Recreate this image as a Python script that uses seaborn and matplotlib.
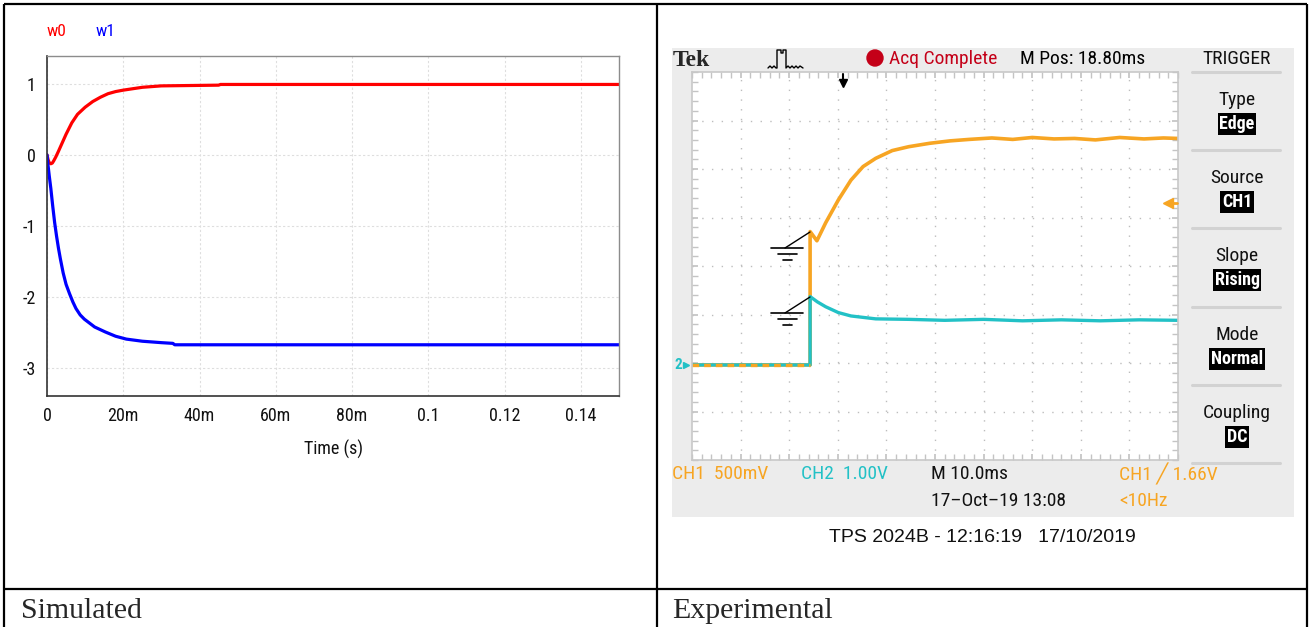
import numpy as np
import pandas as pd
import matplotlib
matplotlib.use("Agg")
import matplotlib.pyplot as plt
import matplotlib.patches as mpatches
import seaborn as sns

W, H = 1311, 627

# simulated traces (PSIM), time in s
t_w0 = [0, 0.0003, 0.0006, 0.001, 0.0014, 0.0018, 0.0023, 0.003, 0.004, 0.005, 0.0065,
        0.008, 0.010, 0.012, 0.014, 0.016, 0.018, 0.020, 0.025, 0.030, 0.045, 0.0455, 0.15]
w0 = [0, -0.07, -0.11, -0.125, -0.115, -0.08, -0.03, 0.05, 0.17, 0.29, 0.45,
      0.57, 0.67, 0.75, 0.81, 0.86, 0.89, 0.91, 0.95, 0.97, 0.98, 0.99, 0.99]
t_w1 = [0, 0.0003, 0.0006, 0.001, 0.0015, 0.002, 0.0025, 0.003, 0.0035, 0.00424, 0.005,
        0.0059, 0.0068, 0.0076, 0.0087, 0.0098, 0.0125, 0.0153, 0.018, 0.0208, 0.025,
        0.030, 0.033, 0.0335, 0.15]
w1 = [0, -0.16, -0.30, -0.47, -0.72, -0.95, -1.14, -1.31, -1.46, -1.66, -1.82,
      -1.95, -2.07, -2.16, -2.25, -2.31, -2.42, -2.49, -2.55, -2.59, -2.62,
      -2.64, -2.65, -2.67, -2.67]
sim_xticks = [0, 0.02, 0.04, 0.06, 0.08, 0.10, 0.12, 0.14]
sim_xlabels = ["0", "20m", "40m", "60m", "80m", "0.1", "0.12", "0.14"]
sim_yticks = [-3, -2, -1, 0, 1]

# scope traces: time in ms (10 ms/div), level in divisions from bottom of screen
t_ch1 = [0, 24.3, 24.3, 25.7, 27.5, 30.1, 32.7, 35.2, 37.8, 41.2, 44.6, 48.9, 53.1,
         57.0, 61.7, 66.0, 70.0, 74.5, 78.7, 83.0, 88.0, 93.0, 97.0, 100]
ch1 = [1.96, 1.96, 4.71, 4.52, 4.89, 5.36, 5.77, 6.05, 6.22, 6.38, 6.46, 6.53, 6.58,
       6.61, 6.64, 6.61, 6.65, 6.62, 6.63, 6.60, 6.65, 6.62, 6.64, 6.63]
t_ch2 = [0, 24.3, 24.3, 25.8, 27.5, 30.1, 32.7, 37.8, 44.6, 52.0, 60.0, 68.0,
         76.0, 84.0, 92.0, 100]
ch2 = [1.96, 1.96, 3.37, 3.26, 3.16, 3.04, 2.97, 2.91, 2.90, 2.88, 2.90, 2.87,
       2.89, 2.87, 2.89, 2.88]

menu_labels = ["Type", "Source", "Slope", "Mode", "Coupling"]
menu_values = ["Edge", "CH1", "Rising", "Normal", "DC"]

ORANGE = "#f7a523"
CYAN = "#22c1c6"
NARROW = ["Roboto Condensed", "Liberation Sans", "DejaVu Sans"]

sns.set_theme(style="white")
plt.rcParams["font.family"] = NARROW

fig = plt.figure(figsize=(W / 100, H / 100), dpi=100)


def box(x0, y0, x1, y1):
    return [x0 / W, 1 - y1 / H, (x1 - x0) / W, (y1 - y0) / H]


# back layer: scope screenshot background
back = fig.add_axes([0, 0, 1, 1], zorder=-1)
back.set_xlim(0, W)
back.set_ylim(H, 0)
back.axis("off")
back.add_patch(mpatches.Rectangle((672, 48), 622, 469, color="#ececec", lw=0))

# ---- simulated plot ----
sim = pd.concat([
    pd.DataFrame({"t": t_w0, "v": w0, "s": "w0"}),
    pd.DataFrame({"t": t_w1, "v": w1, "s": "w1"}),
])
ax = fig.add_axes(box(47, 56, 619, 396))
sns.lineplot(data=sim, x="t", y="v", hue="s", palette={"w0": "#ff0000", "w1": "#0000ff"},
             estimator=None, sort=False, lw=2.3, legend=False, ax=ax)
ax.set_xlim(0, 0.15)
ax.set_ylim(-3.39, 1.39)
ax.set_xticks(sim_xticks)
ax.set_xticklabels(sim_xlabels)
ax.set_yticks(sim_yticks)
ax.set_yticklabels([str(v) for v in sim_yticks])
ax.tick_params(length=0, labelsize=13, colors="#111111")
ax.tick_params(axis="x", pad=8)
ax.tick_params(axis="y", pad=8)
ax.grid(True, color="#dedede", lw=0.8, ls=(0, (2, 2)))
ax.set_ylabel("")
ax.set_xlabel("Time (s)", fontsize=13, color="#111111")
ax.xaxis.set_label_coords(0.5, -0.13)
for side in ["left", "bottom"]:
    ax.spines[side].set_color("#333333")
    ax.spines[side].set_linewidth(1.2)
for side in ["top", "right"]:
    ax.spines[side].set_color("#8c8c8c")
    ax.spines[side].set_linewidth(1.0)

# ---- scope screen ----
sc = fig.add_axes(box(692, 72, 1178, 460))
sc.set_facecolor("white")
sns.lineplot(x=t_ch1, y=ch1, color=ORANGE, lw=2.6, estimator=None, sort=False, ax=sc)
sns.lineplot(x=t_ch2, y=ch2, color=CYAN, lw=2.4, estimator=None, sort=False, ax=sc)
sc.plot(t_ch1[:2], ch1[:2], color=ORANGE, lw=2.4, ls=(0, (2, 1.5)))
sc.set_xlim(0, 100)
sc.set_ylim(0, 8)
sc.set_xticks(np.arange(10, 100, 10))
sc.set_yticks(np.arange(1, 8, 1))
sc.set_xticks(np.arange(0, 101, 2), minor=True)
sc.set_yticks(np.arange(0, 8.01, 0.2), minor=True)
sc.tick_params(which="both", direction="in", length=4, color="#c4c4c4",
               top=True, right=True, bottom=True, left=True,
               labelbottom=False, labelleft=False)
sc.grid(True, which="major", color="#bdbdbd", lw=1.0, ls=(0, (1, 6)))
for s in sc.spines.values():
    s.set_color("#c8c8c8")
    s.set_linewidth(1.2)

# ---- front layer: text and decorations ----
fr = fig.add_axes([0, 0, 1, 1], zorder=10)
fr.set_xlim(0, W)
fr.set_ylim(H, 0)
fr.axis("off")
fr.patch.set_alpha(0)

# table lines
for xs, ys in [([4, 1307], [4, 4]), ([4, 4], [4, 627]), ([657, 657], [4, 627]),
               ([1307, 1307], [4, 627]), ([4, 1307], [589, 589])]:
    fr.plot(xs, ys, color="black", lw=1.6, solid_capstyle="butt")
fr.text(21, 618, "Simulated", family="Liberation Serif", fontsize=21.5, va="baseline")
fr.text(672, 618, "Experimental", family="Liberation Serif", fontsize=21.5, va="baseline")

# simulated legend
fr.text(47, 32, "w0", color="#ff0000", fontsize=12.5, va="center")
fr.text(96, 32, "w1", color="#0000ff", fontsize=12.5, va="center")

# scope header
fr.text(673, 61, "Tek", family="Liberation Serif", weight="bold", fontsize=17, va="center")
fr.plot([768, 770, 772, 774, 776, 777, 777, 781, 781, 783, 783, 786, 786, 788, 790, 792,
         794, 796, 798, 800, 803],
        [68, 66, 68, 66, 68, 68, 50, 50, 53, 53, 50, 50, 68, 66, 68, 66, 68, 66, 68, 66, 68],
        color="black", lw=1.0)
fr.add_patch(mpatches.Circle((875, 58), 8, color="#c40018"))
fr.text(889, 59, "Acq Complete", color="#c40018", fontsize=14, va="center")
fr.text(1020, 59, "M Pos: 18.80ms", color="black", fontsize=14, va="center")
fr.text(1237, 59, "TRIGGER", color="#111111", fontsize=14, va="center", ha="center")

# trigger position arrow and trigger level marker
fr.plot([843, 843], [74, 82], color="black", lw=1.5)
fr.plot([843], [83], marker="v", color="black", ms=6)
fr.plot([1168], [203], marker="<", color=ORANGE, ms=7)
fr.plot([1170, 1177], [203, 203], color=ORANGE, lw=2)
fr.text(678, 365, "2", color=CYAN, fontsize=11, va="center", ha="center", weight="bold")
fr.plot([686], [365], marker=">", color=CYAN, ms=5)

# ground symbols of both channels
for gy, ty in [(248, 232), (313, 297)]:
    fr.plot([771, 803], [gy, gy], color="black", lw=1.2)
    fr.plot([778, 797], [gy + 6, gy + 6], color="black", lw=1.2)
    fr.plot([783, 792], [gy + 12, gy + 12], color="black", lw=1.2)
    fr.plot([785, 810], [gy, ty], color="black", lw=1.0)

# right side menu
seps = [72, 150, 228, 307, 385, 463]
for y in seps:
    fr.plot([1192, 1280], [y, y], color="#d2d2d2", lw=2.2)
for y, lab, val in zip(seps, menu_labels, menu_values):
    fr.text(1237, y + 28, lab, fontsize=14, ha="center", va="center", color="#111111")
    fr.text(1237, y + 52, val, fontsize=13, ha="center", va="center", color="white",
            weight="bold", bbox=dict(boxstyle="square,pad=0.1", fc="black", ec="none"))

# bottom status line
fr.text(672, 474, "CH1  500mV", color=ORANGE, fontsize=14, va="center")
fr.text(801, 474, "CH2  1.00V", color=CYAN, fontsize=14, va="center")
fr.text(931, 474, "M 10.0ms", color="#111111", fontsize=14, va="center")
fr.text(931, 501, "17\u2013Oct\u201319 13:08", color="#111111", fontsize=14, va="center")
fr.text(1119, 474, "CH1 \u2571 1.66V", color=ORANGE, fontsize=14, va="center")
fr.text(1119, 501, "<10Hz", color=ORANGE, fontsize=14, va="center")
fr.text(982, 537, "TPS 2024B - 12:16:19   17/10/2019", family="Liberation Sans",
        fontsize=14, ha="center", va="center", color="#111111")

fig.savefig("out.png", dpi=100)
